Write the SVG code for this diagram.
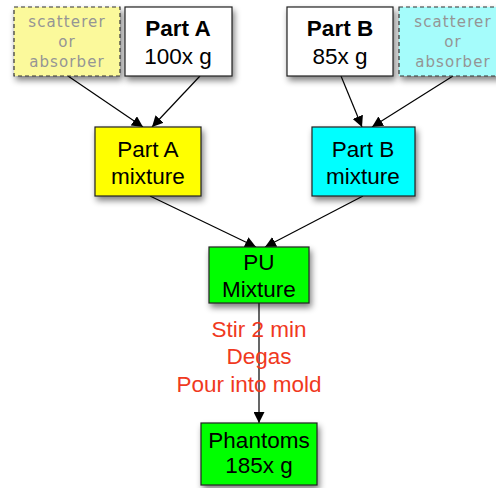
<svg xmlns="http://www.w3.org/2000/svg" width="496" height="488" viewBox="0 0 496 488">
<defs>
<filter id="sh" x="-20%" y="-20%" width="150%" height="150%">
<feGaussianBlur in="SourceAlpha" stdDeviation="3"/>
<feOffset dx="2" dy="4" result="b"/>
<feComponentTransfer><feFuncA type="linear" slope="0.5"/></feComponentTransfer>
<feMerge><feMergeNode/><feMergeNode in="SourceGraphic"/></feMerge>
</filter>
<marker id="ah" viewBox="0 0 10 10" refX="10" refY="5" markerWidth="11" markerHeight="11" markerUnits="userSpaceOnUse" orient="auto">
<path d="M0,0 L10,5 L0,10 z" fill="#000"/>
</marker>
<style>
.box{stroke:#222;stroke-width:1.2;filter:url(#sh)}
.dash{stroke:#333;stroke-width:1.2;stroke-dasharray:4,3;filter:url(#sh)}
.t{font-family:"Liberation Sans",Arial,sans-serif;font-size:22.5px;fill:#000;text-anchor:middle}
.b{font-weight:bold}
.g{font-family:"DejaVu Sans","Liberation Sans",sans-serif;font-size:15px;fill:#959595;text-anchor:middle;letter-spacing:1.1px}
.r{font-family:"Liberation Sans",Arial,sans-serif;font-size:22.5px;fill:#f0391e;text-anchor:middle}
.c{stroke:#000;stroke-width:1.2;fill:none}
</style>
</defs>
<rect width="496" height="488" fill="#fff"/>
<g id="connectors">
<line class="c" x1="68" y1="76" x2="143" y2="127" marker-end="url(#ah)"/>
<line class="c" x1="200" y1="76" x2="152" y2="127" marker-end="url(#ah)"/>
<line class="c" x1="341" y1="76" x2="362" y2="127" marker-end="url(#ah)"/>
<line class="c" x1="453" y1="76" x2="372" y2="127" marker-end="url(#ah)"/>
<line class="c" x1="150" y1="196" x2="256" y2="247" marker-end="url(#ah)"/>
<line class="c" x1="363" y1="196" x2="265" y2="247" marker-end="url(#ah)"/>
<line class="c" x1="259" y1="303" x2="259" y2="423" marker-end="url(#ah)"/>
</g>
<g id="scattererA">
<rect class="dash" x="14" y="7" width="106" height="69" fill="#fbf99b"/>
<text class="g" x="67" y="27">scatterer</text>
<text class="g" x="67" y="47">or</text>
<text class="g" x="67" y="67">absorber</text>
</g>
<g id="partA">
<rect class="box" x="125" y="7" width="107" height="69" fill="#fff"/>
<text class="t b" x="178" y="36">Part A</text>
<text class="t" x="178" y="64">100x g</text>
</g>
<g id="partB">
<rect class="box" x="287" y="7" width="106" height="69" fill="#fff"/>
<text class="t b" x="340" y="36">Part B</text>
<text class="t" x="340" y="64">85x g</text>
</g>
<g id="scattererB">
<rect class="dash" x="399" y="7" width="108" height="69" fill="#a5fcfb"/>
<text class="g" x="453" y="27">scatterer</text>
<text class="g" x="453" y="47">or</text>
<text class="g" x="453" y="67">absorber</text>
</g>
<g id="partAmix">
<rect class="box" x="95" y="127" width="106" height="69" fill="#ffff00"/>
<text class="t" x="148" y="157">Part A</text>
<text class="t" x="148" y="184">mixture</text>
</g>
<g id="partBmix">
<rect class="box" x="312" y="127" width="103" height="69" fill="#00ffff"/>
<text class="t" x="363" y="157">Part B</text>
<text class="t" x="363" y="184">mixture</text>
</g>
<g id="puMixture">
<rect class="box" x="209" y="247" width="100" height="56" fill="#00ff00"/>
<text class="t" x="259" y="270">PU</text>
<text class="t" x="259" y="297">Mixture</text>
</g>
<g id="steps">
<text class="r" x="259" y="337">Stir 2 min</text>
<text class="r" x="259" y="364">Degas</text>
<text class="r" x="249" y="392">Pour into mold</text>
</g>
<g id="phantoms">
<rect class="box" x="201" y="423" width="116" height="62" fill="#00ff00"/>
<text class="t" x="259" y="448">Phantoms</text>
<text class="t" x="259" y="473">185x g</text>
</g>
</svg>
